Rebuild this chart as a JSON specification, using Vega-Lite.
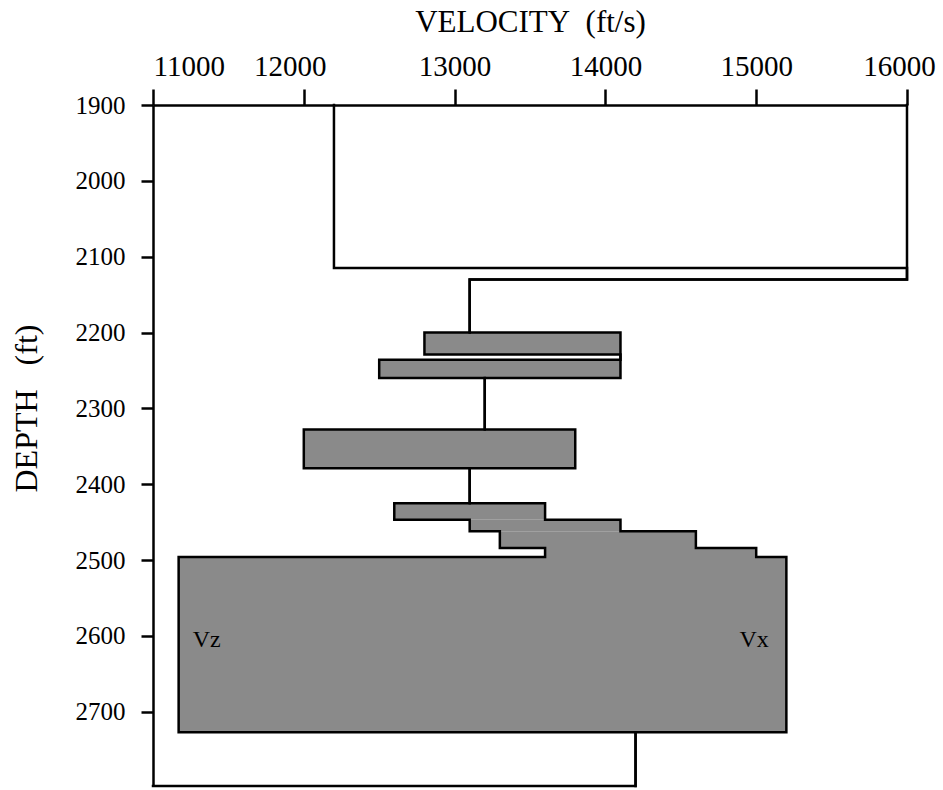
{
  "$schema": "https://vega.github.io/schema/vega-lite/v6.json",
  "width": 754,
  "height": 681,
  "autosize": "none",
  "padding": {"left": 153, "top": 105, "right": 36, "bottom": 4},
  "background": "white",
  "config": {
    "view": {"stroke": null},
    "font": "Liberation Serif",
    "axis": {"labelFont": "Liberation Serif", "titleFont": "Liberation Serif"},
    "text": {"font": "Liberation Serif"}
  },
  "datasets": {
    "zones": [
      {"v": 12800, "vx": 14100, "d": 2200, "d2": 2229},
      {"v": 12500, "vx": 14100, "d": 2236, "d2": 2260},
      {"v": 12000, "vx": 13800, "d": 2328, "d2": 2379},
      {"v": 12600, "vx": 13600, "d": 2425, "d2": 2447},
      {"v": 13100, "vx": 14100, "d": 2447, "d2": 2462},
      {"v": 13300, "vx": 14600, "d": 2462, "d2": 2484},
      {"v": 13600, "vx": 15000, "d": 2484, "d2": 2496},
      {"v": 11170, "vx": 15200, "d": 2496, "d2": 2727}
    ],
    "curves": [
      {"curve": "Vz", "seq": 1, "v": 12200, "d": 1900},
      {"curve": "Vz", "seq": 2, "v": 12200, "d": 2115},
      {"curve": "Vz", "seq": 3, "v": 16000, "d": 2115},
      {"curve": "Vz", "seq": 4, "v": 16000, "d": 2130},
      {"curve": "Vz", "seq": 5, "v": 13100, "d": 2130},
      {"curve": "Vz", "seq": 6, "v": 13100, "d": 2200},
      {"curve": "Vz", "seq": 7, "v": 12800, "d": 2200},
      {"curve": "Vz", "seq": 8, "v": 12800, "d": 2229},
      {"curve": "Vz", "seq": 9, "v": 14100, "d": 2229},
      {"curve": "Vz", "seq": 10, "v": 14100, "d": 2236},
      {"curve": "Vz", "seq": 11, "v": 12500, "d": 2236},
      {"curve": "Vz", "seq": 12, "v": 12500, "d": 2260},
      {"curve": "Vz", "seq": 13, "v": 13200, "d": 2260},
      {"curve": "Vz", "seq": 14, "v": 13200, "d": 2328},
      {"curve": "Vz", "seq": 15, "v": 12000, "d": 2328},
      {"curve": "Vz", "seq": 16, "v": 12000, "d": 2379},
      {"curve": "Vz", "seq": 17, "v": 13100, "d": 2379},
      {"curve": "Vz", "seq": 18, "v": 13100, "d": 2425},
      {"curve": "Vz", "seq": 19, "v": 12600, "d": 2425},
      {"curve": "Vz", "seq": 20, "v": 12600, "d": 2447},
      {"curve": "Vz", "seq": 21, "v": 13100, "d": 2447},
      {"curve": "Vz", "seq": 22, "v": 13100, "d": 2462},
      {"curve": "Vz", "seq": 23, "v": 13300, "d": 2462},
      {"curve": "Vz", "seq": 24, "v": 13300, "d": 2484},
      {"curve": "Vz", "seq": 25, "v": 13600, "d": 2484},
      {"curve": "Vz", "seq": 26, "v": 13600, "d": 2496},
      {"curve": "Vz", "seq": 27, "v": 11170, "d": 2496},
      {"curve": "Vz", "seq": 28, "v": 11170, "d": 2727},
      {"curve": "Vz", "seq": 29, "v": 14200, "d": 2727},
      {"curve": "Vz", "seq": 30, "v": 14200, "d": 2798},
      {"curve": "Vz", "seq": 31, "v": 11000, "d": 2798},
      {"curve": "Vx", "seq": 1, "v": 16000, "d": 1900},
      {"curve": "Vx", "seq": 2, "v": 16000, "d": 2130},
      {"curve": "Vx", "seq": 3, "v": 13100, "d": 2130},
      {"curve": "Vx", "seq": 4, "v": 13100, "d": 2200},
      {"curve": "Vx", "seq": 5, "v": 14100, "d": 2200},
      {"curve": "Vx", "seq": 6, "v": 14100, "d": 2260},
      {"curve": "Vx", "seq": 7, "v": 13200, "d": 2260},
      {"curve": "Vx", "seq": 8, "v": 13200, "d": 2328},
      {"curve": "Vx", "seq": 9, "v": 13800, "d": 2328},
      {"curve": "Vx", "seq": 10, "v": 13800, "d": 2379},
      {"curve": "Vx", "seq": 11, "v": 13100, "d": 2379},
      {"curve": "Vx", "seq": 12, "v": 13100, "d": 2425},
      {"curve": "Vx", "seq": 13, "v": 13600, "d": 2425},
      {"curve": "Vx", "seq": 14, "v": 13600, "d": 2447},
      {"curve": "Vx", "seq": 15, "v": 14100, "d": 2447},
      {"curve": "Vx", "seq": 16, "v": 14100, "d": 2462},
      {"curve": "Vx", "seq": 17, "v": 14600, "d": 2462},
      {"curve": "Vx", "seq": 18, "v": 14600, "d": 2484},
      {"curve": "Vx", "seq": 19, "v": 15000, "d": 2484},
      {"curve": "Vx", "seq": 20, "v": 15000, "d": 2496},
      {"curve": "Vx", "seq": 21, "v": 15200, "d": 2496},
      {"curve": "Vx", "seq": 22, "v": 15200, "d": 2727},
      {"curve": "Vx", "seq": 23, "v": 14200, "d": 2727},
      {"curve": "Vx", "seq": 24, "v": 14200, "d": 2798}
    ],
    "labels": [
      {"label": "Vz", "v": 11356, "d": 2605},
      {"label": "Vx", "v": 14986, "d": 2605}
    ]
  },
  "encoding": {
    "x": {
      "field": "v",
      "type": "quantitative",
      "scale": {"domain": [11000, 16000], "nice": false, "zero": false},
      "axis": {
        "orient": "top",
        "title": "VELOCITY\u00a0\u00a0(ft/s)",
        "values": [11000, 12000, 13000, 14000, 15000, 16000],
        "format": "d",
        "grid": false,
        "tickSize": 16,
        "tickWidth": 2.5,
        "tickColor": "black",
        "domainColor": "black",
        "domainWidth": 2.5,
        "labelFont": "Liberation Serif",
        "labelFontSize": 29,
        "labelColor": "black",
        "labelPadding": 8,
        "labelFlush": false,
        "labelAlign": {"condition": {"test": "datum.value == 11000", "value": "left"}, "value": "center"},
        "labelOffset": {"condition": [{"test": "datum.value == 12000", "value": -14}, {"test": "datum.value == 16000", "value": -8}], "value": 0},
        "titleFont": "Liberation Serif",
        "titleFontSize": 31,
        "titleFontWeight": "normal",
        "titleColor": "black",
        "titleBaseline": "middle",
        "titleY": -83
      }
    },
    "y": {
      "field": "d",
      "type": "quantitative",
      "scale": {"domain": [1900, 2798], "reverse": true, "nice": false, "zero": false},
      "axis": {
        "title": "DEPTH\u00a0\u00a0\u00a0(ft)",
        "values": [1900, 2000, 2100, 2200, 2300, 2400, 2500, 2600, 2700],
        "format": "d",
        "grid": false,
        "tickSize": 12,
        "tickWidth": 2.5,
        "tickColor": "black",
        "domainColor": "black",
        "domainWidth": 2.5,
        "labelFont": "Liberation Serif",
        "labelFontSize": 25,
        "labelColor": "black",
        "labelPadding": 16,
        "titleFont": "Liberation Serif",
        "titleFontSize": 32,
        "titleFontWeight": "normal",
        "titleColor": "black",
        "titleX": -110,
        "titleY": 303
      }
    }
  },
  "layer": [
    {
      "data": {"name": "zones"},
      "mark": {"type": "rect", "fill": "#8a8a8a", "strokeWidth": 0},
      "encoding": {"x2": {"field": "vx"}, "y2": {"field": "d2"}}
    },
    {
      "data": {"name": "curves"},
      "mark": {"type": "line", "color": "black", "strokeWidth": 2.5, "strokeJoin": "miter", "strokeCap": "square"},
      "encoding": {
        "detail": {"field": "curve"},
        "order": {"field": "seq", "type": "quantitative"}
      }
    },
    {
      "data": {"name": "labels"},
      "mark": {"type": "text", "fontSize": 24, "font": "Liberation Serif", "color": "#000000"},
      "encoding": {"text": {"field": "label"}}
    }
  ]
}
